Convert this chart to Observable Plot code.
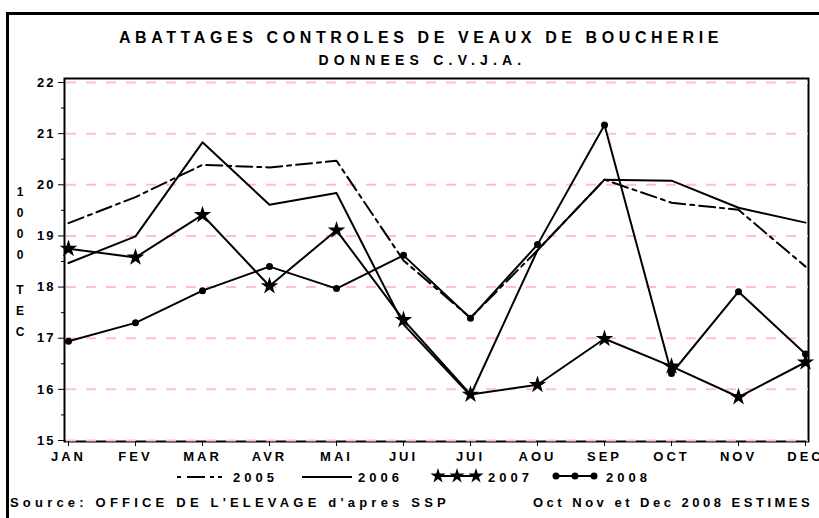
<!DOCTYPE html>
<html><head><meta charset="utf-8">
<script src="https://cdn.jsdelivr.net/npm/d3@7"></script>
<script src="https://cdn.jsdelivr.net/npm/@observablehq/plot@0.6"></script>
<style>
html,body{margin:0;padding:0;overflow:hidden;background:#fff;}
#wrap{position:relative;width:819px;height:518px;overflow:hidden;font-family:"Liberation Sans",Arial,sans-serif;font-weight:bold;color:#000;}
#outer{position:absolute;left:6px;top:12px;width:900px;height:600px;border:3px solid #000;box-sizing:border-box;}
#chart{position:absolute;left:0;top:0;}
.t{position:absolute;white-space:nowrap;line-height:1;}
#title{left:0;width:842px;text-align:center;top:30px;font-size:16px;letter-spacing:4.6px;}
#subtitle{left:0;width:845px;text-align:center;top:53px;font-size:14px;letter-spacing:5.2px;}
.ylab{position:absolute;left:14px;width:12px;text-align:center;font-size:12px;line-height:21px;}
.leg{position:absolute;top:469px;height:16px;display:flex;align-items:center;}
.leg span{font-size:13px;letter-spacing:4px;margin-left:6px;}
#cap1{left:10px;top:496px;font-size:13px;letter-spacing:4.2px;}
#cap2{left:533px;top:496px;font-size:13px;letter-spacing:3.5px;}
svg [aria-label="y-axis tick label"] text{letter-spacing:2px;}
svg [aria-label="x-axis tick label"] text{letter-spacing:3px;}
</style>
</head><body>
<div id="wrap">
  <div id="outer"></div>
  <div id="chart"></div>
  <div class="t" id="title"></div>
  <div class="t" id="subtitle"></div>
  <div class="ylab" id="ylab1" style="top:182px"></div>
  <div class="ylab" id="ylab2" style="top:280px"></div>
  <div id="legend"></div>
  <div class="t" id="cap1"></div>
  <div class="t" id="cap2"></div>
</div>
<script>
// ---- data ----
const titleText = "ABATTAGES CONTROLES DE VEAUX DE BOUCHERIE";
const subtitleText = "DONNEES C.V.J.A.";
const yLabelTop = ["1","0","0","0"];
const yLabelBottom = ["T","E","C"];
const months = ["JAN","FEV","MAR","AVR","MAI","JUI","JUI","AOU","SEP","OCT","NOV","DEC"];
const years = ["2005","2006","2007","2008"];
const v2005 = [19.25, 19.76, 20.39, 20.34, 20.47, 18.52, 17.40, 18.72, 20.10, 19.65, 19.51, 18.40];
const v2006 = [18.47, 18.99, 20.83, 19.61, 19.84, 17.27, 15.88, 18.72, 20.10, 20.08, 19.55, 19.26];
const v2007 = [18.75, 18.58, 19.41, 18.02, 19.11, 17.36, 15.90, 16.09, 16.99, 16.45, 15.85, 16.53];
const v2008 = [16.94, 17.30, 17.93, 18.40, 17.97, 18.62, 17.39, 18.83, 21.17, 16.31, 17.91, 16.69];
const yTicks = [15, 16, 17, 18, 19, 20, 21, 22];
const yMinorTicks = [15.5, 16.5, 17.5, 18.5, 19.5, 20.5, 21.5];
const caption1 = "Source:  OFFICE DE L'ELEVAGE d'apres SSP";
const caption2 = "Oct Nov et Dec 2008 ESTIMES";

// ---- build ----
const monthIdx = months.map((m, i) => i + 1);
const rows = vals => vals.map((v, i) => ({m: i + 1, v}));

document.getElementById("title").textContent = titleText;
document.getElementById("subtitle").textContent = subtitleText;
document.getElementById("ylab1").innerHTML = yLabelTop.join("<br>");
document.getElementById("ylab2").innerHTML = yLabelBottom.join("<br>");
document.getElementById("cap1").textContent = caption1;
document.getElementById("cap2").textContent = caption2;

const lineStyle = {x: "m", y: "v", stroke: "#000", strokeWidth: 2};

const chart = Plot.plot({
  width: 819, height: 518,
  marginLeft: 64, marginRight: 11, marginTop: 78, marginBottom: 77,
  style: {fontFamily: "Liberation Sans, Arial, sans-serif", fontWeight: "bold", fontSize: "13px", background: "transparent", color: "#000", overflow: "visible"},
  x: {domain: [1, 12], range: [68, 805], label: null},
  y: {domain: [15, 22], range: [440, 82], label: null},
  marks: [
    Plot.frame({stroke: "#000", strokeWidth: 2}),
    Plot.ruleY(yTicks, {stroke: "#ffc0cb", strokeWidth: 2, strokeDasharray: "10,10", strokeDashoffset: -2}),
    Plot.axisY(yTicks, {tickSize: 6, tickPadding: 3, tickFormat: d => String(d), stroke: "#000", label: null}),
    Plot.axisY(yMinorTicks, {tickSize: 3, tickFormat: () => "", stroke: "#000", label: null}),
    Plot.axisX(monthIdx, {tickSize: 5, tickPadding: 5, tickFormat: i => months[i - 1], stroke: "#000", label: null}),
    Plot.line(rows(v2005), {...lineStyle, strokeDasharray: "16,5,4,5"}),
    Plot.line(rows(v2006), lineStyle),
    Plot.line(rows(v2007), lineStyle),
    Plot.dot(rows(v2007), {x: "m", y: "v", symbol: "star", fill: "#000", r: 5.5}),
    Plot.line(rows(v2008), lineStyle),
    Plot.dot(rows(v2008), {x: "m", y: "v", fill: "#000", r: 3.5})
  ]
});
document.getElementById("chart").appendChild(chart);

// ---- legend ----
const legendLeft = [177, 302, 432, 550];
const swatch = (i) => {
  const w = 50;
  if (i === 0) return `<svg width="${w}" height="10"><line x1="0" y1="5" x2="${w}" y2="5" stroke="#000" stroke-width="2" stroke-dasharray="4,6,18,5,4,4,4,5"/></svg>`;
  if (i === 1) return `<svg width="${w}" height="10"><line x1="0" y1="5" x2="${w}" y2="5" stroke="#000" stroke-width="2"/></svg>`;
  const pts = [6, 25, 44];
  const star = d3.symbol(d3.symbolStar, 70)();
  let marks = pts.map(x => i === 2
    ? `<path transform="translate(${x},5)" d="${star}" fill="#000"/>`
    : `<circle cx="${x}" cy="5" r="3.5" fill="#000"/>`).join("");
  return `<svg width="${w}" height="12" style="overflow:visible"><line x1="3" y1="5" x2="${w - 3}" y2="5" stroke="#000" stroke-width="2"/>${marks}</svg>`;
};
const legend = document.getElementById("legend");
years.forEach((y, i) => {
  const d = document.createElement("div");
  d.className = "leg";
  d.style.left = legendLeft[i] + "px";
  d.innerHTML = swatch(i) + `<span>${y}</span>`;
  legend.appendChild(d);
});
</script>
</body></html>
